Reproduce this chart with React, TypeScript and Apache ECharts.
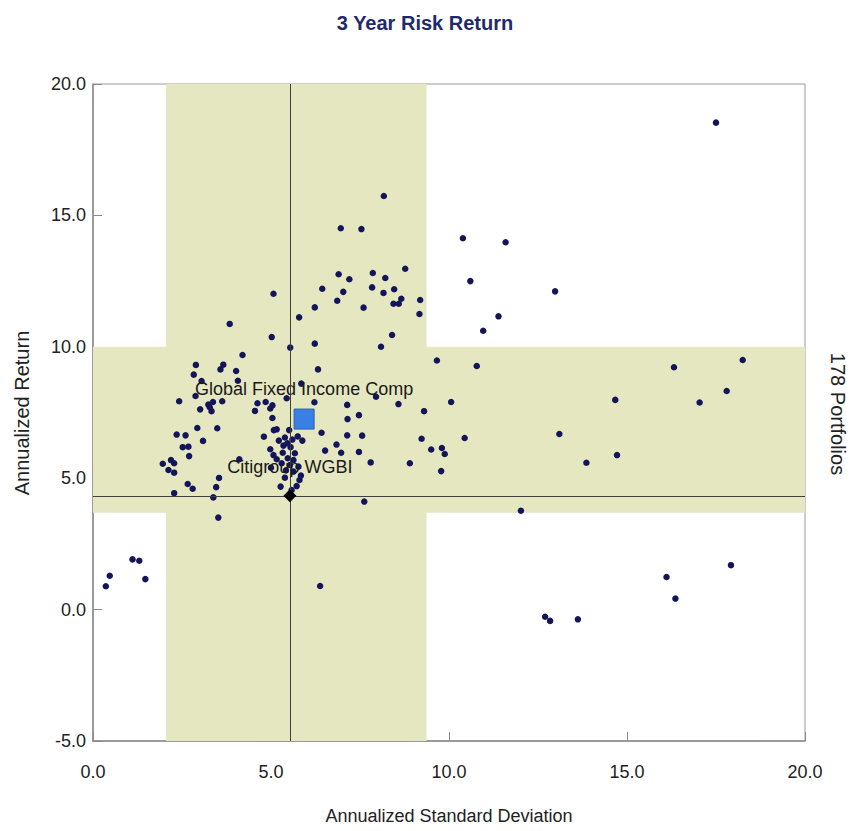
import React, { useEffect, useRef } from "react";
import * as echarts from "echarts";

const titleText = "3 Year Risk Return";
const xAxisName = "Annualized Standard Deviation";
const yAxisName = "Annualized Return";
const rightLabel = "178 Portfolios";

const xTicks = { min: 0, max: 20, interval: 5 };
const yTicks = { min: -5, max: 20, interval: 5 };

// Bands: [low, high]
const stdDevBand = [2.05, 9.37];
const returnBand = [3.69, 10.0];

// Benchmarks
const benchmarkName = "Citigroup WGBI";
const benchmarkPoint = [5.53, 4.33];
const compositeName = "Global Fixed Income Comp";
const compositePoint = [5.93, 7.25];

// Portfolios [annualized std dev, annualized return]
const portfolios: number[][] = [
  [8.17, 15.74], [6.96, 14.51], [7.54, 14.48], [8.77, 12.97], [6.9, 12.76],
  [7.86, 12.81], [7.2, 12.57], [8.21, 12.62], [6.44, 12.21], [7.03, 12.09],
  [7.84, 12.26], [8.16, 12.05], [8.46, 12.19], [5.07, 12.02], [6.86, 11.75],
  [8.66, 11.83], [8.44, 11.64], [8.59, 11.64], [9.19, 11.78], [6.23, 11.5],
  [7.6, 11.49], [9.17, 11.25], [5.79, 11.12], [3.84, 10.87], [5.02, 10.37],
  [8.4, 10.45], [6.23, 10.12], [8.09, 10.0], [5.54, 9.97], [17.5, 18.53],
  [10.39, 14.13], [11.59, 13.98], [10.6, 12.5], [12.98, 12.11], [11.39, 11.16],
  [10.96, 10.61], [9.66, 9.48], [10.78, 9.27], [10.06, 7.9], [9.3, 7.55],
  [9.23, 6.5], [10.44, 6.53], [9.5, 6.09], [9.8, 6.15], [9.88, 5.92],
  [9.78, 5.27], [14.67, 7.98], [13.1, 6.68], [14.72, 5.88], [13.86, 5.59],
  [16.32, 9.22], [18.25, 9.5], [17.8, 8.32], [17.04, 7.88], [12.02, 3.76],
  [16.11, 1.24], [17.92, 1.69], [16.36, 0.42], [12.7, -0.27], [12.84, -0.43],
  [13.62, -0.37], [3.52, 3.5], [7.62, 4.11], [1.11, 1.91], [1.3, 1.86],
  [0.47, 1.29], [0.36, 0.89], [1.47, 1.16], [6.38, 0.9], [6.32, 9.14],
  [5.85, 8.6], [5.44, 8.04], [6.22, 7.89], [7.95, 8.1], [8.58, 7.82],
  [7.14, 7.79], [7.47, 7.4], [7.15, 7.25], [6.42, 6.73], [7.14, 6.63],
  [7.56, 6.62], [6.84, 6.28], [6.52, 6.05], [6.97, 5.97], [7.47, 6.0],
  [7.8, 5.6], [8.9, 5.57], [4.2, 9.69], [4.62, 7.85], [4.85, 7.9],
  [5.04, 7.77], [4.98, 7.65], [4.55, 7.56], [5.04, 7.29], [5.08, 6.83],
  [5.16, 6.86], [5.51, 6.83], [4.8, 6.58], [5.22, 6.43], [5.39, 6.55],
  [5.46, 6.33], [5.75, 6.59], [5.88, 6.43], [5.6, 6.47], [5.35, 6.24],
  [5.55, 6.18], [5.07, 5.88], [5.33, 5.97], [5.67, 5.95], [5.16, 5.72],
  [5.47, 5.76], [5.63, 5.69], [5.3, 5.57], [5.53, 5.5], [5.77, 5.44],
  [5.63, 5.25], [5.84, 5.1], [5.39, 5.02], [5.8, 4.93], [5.27, 4.68],
  [5.72, 4.7], [5.58, 4.55], [2.89, 9.31], [2.83, 8.94], [3.66, 9.32],
  [3.58, 9.14], [4.02, 9.08], [4.07, 8.71], [2.42, 7.93], [2.88, 8.13],
  [3.01, 7.62], [3.24, 7.8], [3.37, 7.9], [3.28, 7.7], [3.33, 7.55],
  [3.63, 7.93], [2.93, 6.91], [3.49, 6.9], [2.35, 6.66], [2.6, 6.63],
  [3.09, 6.42], [2.52, 6.18], [2.68, 6.2], [2.7, 5.84], [1.96, 5.55],
  [2.19, 5.69], [2.28, 5.57], [2.12, 5.31], [2.28, 5.21], [4.11, 5.72],
  [3.54, 5.01], [2.66, 4.78], [2.8, 4.6], [3.46, 4.66], [2.28, 4.43],
  [3.38, 4.27], [3.05, 8.7], [5.0, 5.4], [5.42, 5.3], [4.98, 6.1]
];

const FONT = "'Liberation Sans', Arial, sans-serif";

export default function App() {
  const ref = useRef<HTMLDivElement>(null);

  useEffect(() => {
    if (!ref.current) return;
    const chart = echarts.init(ref.current, undefined, { renderer: "svg" });
    const option: any = {
      animation: false,
      backgroundColor: "#ffffff",
      textStyle: { fontFamily: FONT },
      title: {
        text: titleText,
        left: "center",
        top: 8,
        textStyle: { fontSize: 20, fontWeight: "bold", color: "#1f2a6b", fontFamily: FONT },
      },
      grid: {
        left: 93,
        right: 45,
        top: 84,
        bottom: 90,
        show: true,
        borderColor: "#9a9a9a",
        borderWidth: 1,
        backgroundColor: "transparent",
      },
      xAxis: {
        type: "value",
        min: xTicks.min,
        max: xTicks.max,
        interval: xTicks.interval,
        axisLine: { show: true, onZero: false, lineStyle: { color: "#8a8a8a", width: 1.5 } },
        axisTick: { show: true, inside: true, length: 9, lineStyle: { color: "#8a8a8a" } },
        splitLine: { show: false },
        axisLabel: {
          formatter: (v: number) => v.toFixed(1),
          fontSize: 18,
          color: "#222",
          margin: 22,
          fontFamily: FONT,
        },
      },
      yAxis: {
        type: "value",
        min: yTicks.min,
        max: yTicks.max,
        interval: yTicks.interval,
        axisLine: { show: true, onZero: false, lineStyle: { color: "#8a8a8a", width: 1.5 } },
        axisTick: { show: true, inside: true, length: 9, lineStyle: { color: "#8a8a8a" } },
        splitLine: { show: false },
        axisLabel: {
          formatter: (v: number) => v.toFixed(1),
          fontSize: 18,
          color: "#222",
          margin: 7,
          fontFamily: FONT,
        },
      },
      graphic: [
        {
          type: "text",
          x: 449,
          y: 816,
          style: {
            text: xAxisName,
            fontSize: 18,
            fill: "#222",
            align: "center",
            verticalAlign: "middle",
            fontFamily: FONT,
          },
        },
        {
          type: "text",
          x: 22,
          y: 413,
          rotation: Math.PI / 2,
          style: {
            text: yAxisName,
            fontSize: 20,
            fill: "#222",
            align: "center",
            verticalAlign: "middle",
            fontFamily: FONT,
          },
        },
        {
          type: "text",
          x: 838,
          y: 414,
          rotation: -Math.PI / 2,
          style: {
            text: rightLabel,
            fontSize: 20,
            fill: "#222",
            align: "center",
            verticalAlign: "middle",
            fontFamily: FONT,
          },
        },
      ],
      series: [
        {
          type: "scatter",
          name: "bands",
          data: [],
          z: 1,
          silent: true,
          markArea: {
            silent: true,
            itemStyle: { color: "#e5e7c0", opacity: 1 },
            data: [
              [
                { xAxis: stdDevBand[0], yAxis: yTicks.min },
                { xAxis: stdDevBand[1], yAxis: yTicks.max },
              ],
              [
                { xAxis: xTicks.min, yAxis: returnBand[0] },
                { xAxis: xTicks.max, yAxis: returnBand[1] },
              ],
            ],
          },
          markLine: {
            silent: true,
            symbol: "none",
            label: { show: false },
            lineStyle: { color: "#404040", width: 1, type: "solid", opacity: 1 },
            data: [{ xAxis: benchmarkPoint[0] }, { yAxis: benchmarkPoint[1] }],
          },
        },
        {
          type: "scatter",
          name: "Portfolios",
          data: portfolios,
          symbol: "circle",
          symbolSize: 6.5,
          itemStyle: { color: "#14145a", opacity: 1 },
          z: 3,
        },
        {
          type: "scatter",
          name: compositeName,
          data: [compositePoint],
          symbol: "rect",
          symbolSize: 20,
          itemStyle: { color: "#3a7fe6", borderColor: "#2a5db0", borderWidth: 1, opacity: 1 },
          z: 4,
          label: {
            show: true,
            formatter: compositeName,
            position: "top",
            offset: [0, -6],
            fontSize: 18,
            color: "#1a1a1a",
            opacity: 1,
            fontFamily: FONT,
          },
        },
        {
          type: "scatter",
          name: benchmarkName,
          data: [benchmarkPoint],
          symbol: "diamond",
          symbolSize: 13,
          itemStyle: { color: "#000000", opacity: 1 },
          z: 5,
          label: {
            show: true,
            formatter: benchmarkName,
            position: "top",
            offset: [0, -8],
            fontSize: 18,
            color: "#1a1a1a",
            opacity: 1,
            fontFamily: FONT,
          },
        },
      ],
    };
    chart.setOption(option);
    return () => chart.dispose();
  }, []);

  return <div ref={ref} style={{ width: 850, height: 831, position: "absolute", left: 0, top: 0 }} />;
}
